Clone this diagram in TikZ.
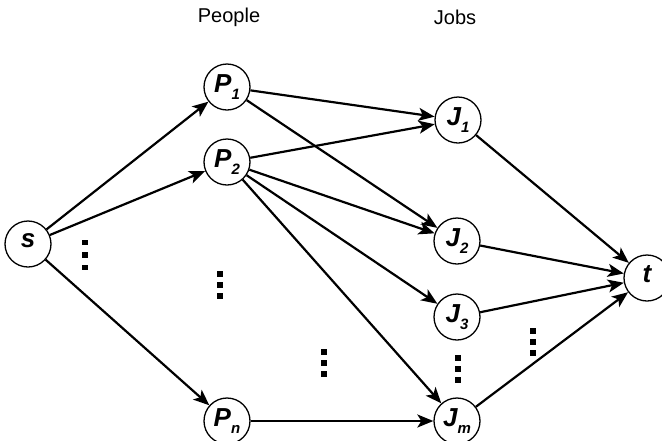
\documentclass[tikz,border=0pt]{standalone}
\usepackage{fontspec}
\setmainfont{Liberation Sans}
\usetikzlibrary{arrows.meta}
\newcommand{\lbl}[2]{\fontsize{26}{26}\selectfont\bfseries\itshape #1\raisebox{-7pt}{\fontsize{15}{15}\selectfont #2}}
\tikzset{
  vnode/.style={circle,draw,line width=1.3pt,minimum size=46pt,inner sep=0pt,fill=white},
  edge/.style={line width=2.2pt,-{Stealth[length=16pt,width=13pt,inset=4pt]}},
  head/.style={font=\fontsize{20}{20}\selectfont},
  vdots/.pic={\fill (-2.6,-13.6) rectangle (2.6,-8.4); \fill (-2.6,-2.6) rectangle (2.6,2.6); \fill (-2.6,8.4) rectangle (2.6,13.6);},
  vdotsw/.pic={\fill (-2.6,-15.1) rectangle (2.6,-9.9); \fill (-2.6,-2.6) rectangle (2.6,2.6); \fill (-2.6,9.9) rectangle (2.6,15.1);}
}
\begin{document}
\begin{tikzpicture}[x=1pt,y=-1pt]
\useasboundingbox (0,0) rectangle (662,440);
\node[head] (people) at (229,17) {People};
\node[head] (jobs) at (455,17) {Jobs};
\node[vnode] (s) at (28,244) {\lbl{s}{}};
\node[vnode] (p1) at (227,87) {\lbl{P}{1}};
\node[vnode] (p2) at (227,162) {\lbl{P}{2}};
\node[vnode] (pn) at (227,421) {\lbl{P}{n}};
\node[vnode] (j1) at (458,120) {\lbl{J}{1}};
\node[vnode] (j2) at (457,241) {\lbl{J}{2}};
\node[vnode] (j3) at (457,317) {\lbl{J}{3}};
\node[vnode] (jm) at (457,421) {\lbl{J}{m}};
\node[vnode] (t) at (647,278) {\lbl{t}{}};
\draw[edge] (s) -- (p1);
\draw[edge] (s) -- (p2);
\draw[edge] (s) -- (pn);
\draw[edge] (p1) -- (j1);
\draw[edge] (p1) -- (j2);
\draw[edge] (p2) -- (j1);
\draw[edge] (p2) -- (j2);
\draw[edge] (p2) -- (j3);
\draw[edge] (p2) -- (jm);
\draw[edge] (pn) -- (jm);
\draw[edge] (j1) -- (t);
\draw[edge] (j2) -- (t);
\draw[edge] (j3) -- (t);
\draw[edge] (jm) -- (t);
\pic at (85,255) {vdotsw};
\pic at (220,285) {vdots};
\pic at (324,363) {vdots};
\pic at (458,369) {vdots};
\pic at (533,342) {vdots};
\end{tikzpicture}
\end{document}
